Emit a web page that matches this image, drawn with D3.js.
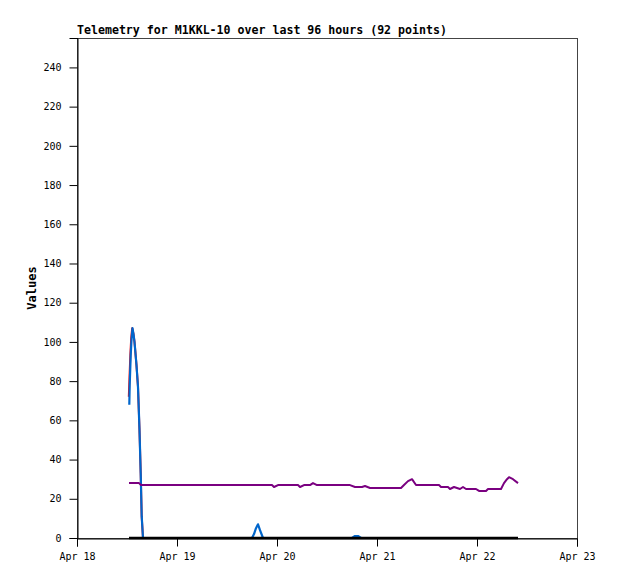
<!DOCTYPE html>
<html><head><meta charset="utf-8">
<script src="https://cdn.jsdelivr.net/npm/d3@7"></script>
<style>
html,body{margin:0;padding:0;background:#fff;}
svg{display:block;}
text{font-family:"DejaVu Sans Mono","Liberation Mono",monospace;}
</style></head>
<body>
<div id="chart"></div>
<script>
// Title and axis
const titleText = "Telemetry for M1KKL-10 over last 96 hours (92 points)";
const yLabel = "Values";
const startDate = new Date(2024, 3, 18);
const xTickDays = [0, 1, 2, 3, 4, 5];
const yTicks = [0, 20, 40, 60, 80, 100, 120, 140, 160, 180, 200, 220, 240];
const yMax = 255;

// Series (time in days since Apr 18 00:00, value)
const redT = [0.518, 0.525, 0.533, 0.542, 0.552, 0.565, 0.575, 0.585, 0.595, 0.61, 0.625, 0.637, 0.647, 0.66];
const redV = [72, 82, 93, 102, 107, 104, 100, 94, 88, 77, 55, 33, 11, 0];

const blueT = [0.523, 0.527, 0.537, 0.545, 0.555, 0.565, 0.575, 0.585, 0.595, 0.61, 0.625, 0.637, 0.647, 0.66,
  1.75, 1.77, 1.79, 1.81, 1.83, 1.86, 2.75, 2.78, 2.81, 2.84, 4.41];
const blueV = [68, 78, 93, 101, 107, 104, 100, 94, 88, 77, 55, 33, 11, 0,
  0, 2, 5, 7, 4, 0, 0, 1, 1, 0, 0];

const purpleT = [0.52, 0.62, 0.64, 1.95, 1.97, 2.01, 2.21, 2.23, 2.27, 2.33, 2.36, 2.40, 2.73, 2.78,
  2.85, 2.88, 2.93, 3.24, 3.27, 3.31, 3.35, 3.39, 3.62, 3.64, 3.71, 3.73, 3.77, 3.83, 3.86, 3.89,
  3.99, 4.02, 4.09, 4.11, 4.24, 4.27, 4.30, 4.32, 4.36, 4.41];
const purpleV = [28, 28, 27, 27, 26, 27, 27, 26, 27, 27, 28, 27, 27, 26,
  26, 26.5, 25.5, 25.5, 27, 29, 30, 27, 27, 26, 26, 25, 26, 25, 26, 25,
  25, 24, 24, 25, 25, 28, 30, 31, 30, 28];

const blackT = [0.52, 4.41];
const blackV = [0, 0];

const W = 618, H = 579;
const m = {left: 77, top: 38, right: 41, bottom: 41};
const svg = d3.select("#chart").append("svg").attr("width", W).attr("height", H);

const x = d3.scaleTime()
  .domain([startDate, d3.timeDay.offset(startDate, 5)])
  .range([m.left, W - m.right]);
const y = d3.scaleLinear().domain([0, yMax]).range([H - m.bottom, m.top]);

const toDate = t => new Date(startDate.getTime() + t * 86400000);

// frame
svg.append("rect").attr("x", m.left + 0.5).attr("y", m.top + 0.5)
  .attr("width", W - m.left - m.right).attr("height", H - m.top - m.bottom)
  .attr("fill", "none").attr("stroke", "#444", ).attr("stroke-width", 1);

// series
function series(T, V, color, w) {
  const data = T.map((t, i) => [toDate(t), V[i]]);
  svg.append("path").datum(data)
    .attr("fill", "none").attr("stroke", color).attr("stroke-width", w)
    .attr("stroke-linejoin", "round")
    .attr("d", d3.line().x(d => x(d[0])).y(d => y(d[1])));
}
series(redT, redV, "#ff0000", 2);
series(blueT, blueV, "#0066cc", 2.2);
series(purpleT, purpleV, "#7a0080", 2);
series(blackT, blackV, "#000000", 2.5);

// axes
const yAxis = svg.append("g").attr("transform", `translate(${m.left + 0.5},0)`)
  .call(d3.axisLeft(y).tickValues(yTicks).tickSize(8).tickPadding(8).tickFormat(d3.format("d")));
yAxis.select(".domain").attr("stroke", "#000");
yAxis.selectAll("line").attr("stroke", "#000");
yAxis.selectAll("text").attr("font-size", 10).attr("fill", "#000")
  .style("font-family", '"DejaVu Sans Mono", monospace');

const xAxis = svg.append("g").attr("transform", `translate(0,${H - m.bottom + 0.5})`)
  .call(d3.axisBottom(x).tickValues(xTickDays.map(d => d3.timeDay.offset(startDate, d)))
    .tickSize(8).tickPadding(6).tickFormat(d3.timeFormat("%b %d")));
xAxis.select(".domain").attr("stroke", "#000");
xAxis.selectAll("line").attr("stroke", "#000");
xAxis.selectAll("text").attr("font-size", 10).attr("fill", "#000")
  .style("font-family", '"DejaVu Sans Mono", monospace');

// title
svg.append("text").attr("x", m.left).attr("y", 34)
  .attr("font-size", 11.6).attr("font-weight", "bold").attr("fill", "#000")
  .text(titleText);

// y label
svg.append("text").attr("transform", `translate(36,${(m.top + H - m.bottom) / 2}) rotate(-90)`)
  .attr("text-anchor", "middle").attr("font-size", 12).attr("font-weight", "bold")
  .attr("fill", "#000").text(yLabel);
</script>
</body></html>
